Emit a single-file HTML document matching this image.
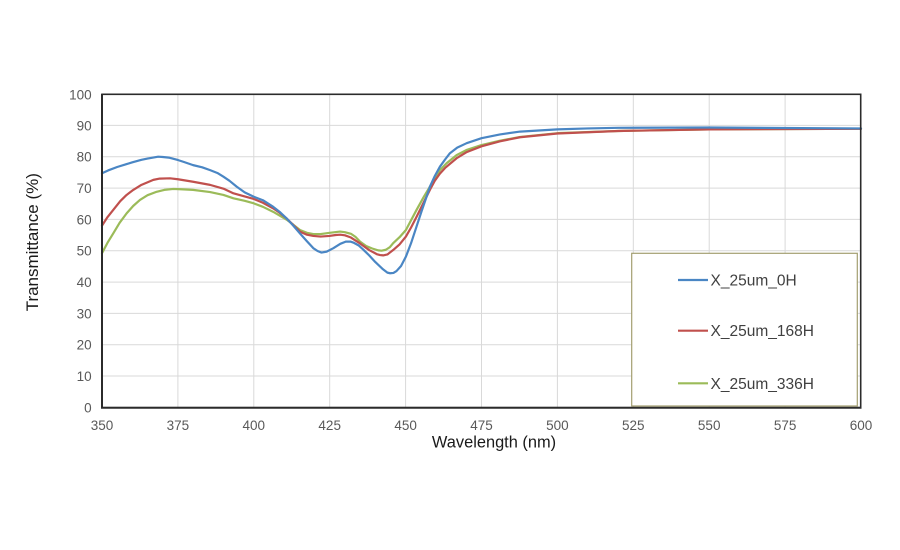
<!DOCTYPE html>
<html>
<head>
<meta charset="utf-8">
<style>
  html, body { margin: 0; padding: 0; background: #ffffff; }
  body { width: 900px; height: 550px; overflow: hidden; }
  svg { display: block; }
  text { font-family: "Liberation Sans", Arial, sans-serif; }
</style>
</head>
<body>
<svg width="900" height="550" viewBox="0 0 900 550" xmlns="http://www.w3.org/2000/svg">
  <rect x="0" y="0" width="900" height="550" fill="#ffffff"/>

  <!-- gridlines -->
  <g stroke="#d9d9d9" stroke-width="1" fill="none">
    <line x1="102" y1="125.4" x2="861" y2="125.4"/>
    <line x1="102" y1="156.7" x2="861" y2="156.7"/>
    <line x1="102" y1="188.1" x2="861" y2="188.1"/>
    <line x1="102" y1="219.4" x2="861" y2="219.4"/>
    <line x1="102" y1="250.7" x2="861" y2="250.7"/>
    <line x1="102" y1="282.1" x2="861" y2="282.1"/>
    <line x1="102" y1="313.4" x2="861" y2="313.4"/>
    <line x1="102" y1="344.7" x2="861" y2="344.7"/>
    <line x1="102" y1="376.0" x2="861" y2="376.0"/>

    <line x1="177.9" y1="94.3" x2="177.9" y2="407.7"/>
    <line x1="253.8" y1="94.3" x2="253.8" y2="407.7"/>
    <line x1="329.7" y1="94.3" x2="329.7" y2="407.7"/>
    <line x1="405.6" y1="94.3" x2="405.6" y2="407.7"/>
    <line x1="481.5" y1="94.3" x2="481.5" y2="407.7"/>
    <line x1="557.4" y1="94.3" x2="557.4" y2="407.7"/>
    <line x1="633.3" y1="94.3" x2="633.3" y2="407.7"/>
    <line x1="709.2" y1="94.3" x2="709.2" y2="407.7"/>
    <line x1="785.1" y1="94.3" x2="785.1" y2="407.7"/>
  </g>

  <!-- series -->
  <g transform="translate(102,407.7) scale(3.036,-3.134)" fill="none" stroke-linejoin="round" stroke-linecap="round">
    <polyline vector-effect="non-scaling-stroke" stroke="#9bbb59" stroke-width="2.2"
      points="0,49.3 1.8,52.6 3.7,55.6 5.8,59 8.1,62 10.3,64.4 12.5,66.3 15,67.8 18,68.9 20.5,69.5 23.5,69.8 26,69.7 30,69.5 35.6,68.8 40,67.9 43.3,66.8 47,66.0 50,65.2 53,64.1 56.4,62.5 58.5,61.3 60.8,60 63,58.4 65.2,56.7 67.5,55.8 69.6,55.4 72,55.4 75,55.8 78.4,56.2 80,56 82,55.5 83.5,54.5 85,53 87,51.6 89,50.8 91,50.2 92.1,50.1 93.5,50.4 94.8,51.2 95.9,52.5 98,54.4 100.1,56.7 101.8,59.8 103.6,63.1 106,67.3 108,70.5 109.6,73.3 111.3,75.8 113.5,78 116.8,80.6 120,82.2 125,83.8 131.1,85.2 137.7,86.4 150,87.6 170,88.3 200,88.8 250,89.0"/>
    <polyline vector-effect="non-scaling-stroke" stroke="#c0504d" stroke-width="2.2"
      points="0,58.1 1.8,60.8 3.7,63.1 6,65.9 8,67.8 10.3,69.5 13,71.1 16.9,72.7 19,73.1 22.4,73.2 25,72.9 30,72.1 35.6,71.1 40,69.9 43.3,68.4 47,67.4 50,66.6 53,65.4 56.4,63.6 58.5,62.2 60.8,60.4 63,58.3 65.2,56.2 67.5,55.2 69.6,54.8 72,54.6 74.9,54.8 77,55.1 78.5,55.2 80,55 82,54.3 85,52.4 88,50.3 90.5,49 91.6,48.7 92.6,48.6 94,48.9 95.9,50.3 98,52.1 100.1,54.6 101.8,57.5 103.6,60.9 106,65.6 108,69.5 109.6,72.4 111.3,74.7 113,76.5 116.8,79.6 120,81.5 125,83.4 131.1,85.0 137.7,86.3 150,87.5 170,88.3 200,88.8 250,89.0"/>
    <polyline vector-effect="non-scaling-stroke" stroke="#4a86c4" stroke-width="2.2"
      points="0,74.8 2,75.7 5,76.8 8,77.7 10,78.3 13,79.1 15,79.5 18.5,80.1 20,80.0 22,79.8 25.1,79 27,78.4 30,77.4 33,76.7 35.6,75.8 38,74.9 40,73.7 42,72.4 44.4,70.5 47,68.7 50,67.3 53,66.2 56.4,64.1 58.5,62.5 60.8,60.4 63,58.1 65.2,55.6 67.5,53.1 69.6,50.9 71,50.0 72.3,49.5 74,49.8 76.2,50.9 78.5,52.3 80.3,53 81.8,53 83,52.6 84.5,51.8 86,50.5 88,48.6 90,46.5 92.5,44.2 94,43.1 94.9,42.9 96,43.0 97,43.6 98.5,45.2 100.1,48.2 101.8,52.5 103.6,57.8 105.3,62.8 106.9,67.3 108,70.5 109.6,73.9 111.3,76.9 113,79.2 114.6,81.2 117,83.0 120.1,84.4 125,86 131.1,87.2 137.7,88.1 150,88.8 160,89.1 170,89.3 200,89.4 250,89.1"/>
  </g>

  <!-- plot border -->
  <rect x="102" y="94.3" width="758.7" height="313.4" fill="none" stroke="#2b2b2b" stroke-width="1.6"/>
  <line x1="102" y1="94" x2="102" y2="408.5" stroke="#2b2b2b" stroke-width="2"/>
  <line x1="101" y1="407.7" x2="861.5" y2="407.7" stroke="#2b2b2b" stroke-width="2"/>

  <!-- legend -->
  <rect x="631.7" y="253.3" width="225.6" height="152.7" fill="#ffffff" stroke="#a39e70" stroke-width="1.2"/>
  <line x1="678" y1="280" x2="708" y2="280" stroke="#4a86c4" stroke-width="2.2"/>
  <line x1="678" y1="330.7" x2="708" y2="330.7" stroke="#c0504d" stroke-width="2.2"/>
  <line x1="678" y1="383.3" x2="708" y2="383.3" stroke="#9bbb59" stroke-width="2.2"/>
  <g font-size="15.5" fill="#404040">
    <text x="710.5" y="285.5">X_25um_0H</text>
    <text x="710.5" y="336.2">X_25um_168H</text>
    <text x="710.5" y="388.8">X_25um_336H</text>
  </g>

  <!-- y tick labels -->
  <g font-size="13.5" fill="#595959" text-anchor="end">
    <text x="91.7" y="99.3">100</text>
    <text x="91.7" y="130.4">90</text>
    <text x="91.7" y="161.7">80</text>
    <text x="91.7" y="193.1">70</text>
    <text x="91.7" y="224.4">60</text>
    <text x="91.7" y="255.7">50</text>
    <text x="91.7" y="287.1">40</text>
    <text x="91.7" y="318.4">30</text>
    <text x="91.7" y="349.7">20</text>
    <text x="91.7" y="381.0">10</text>
    <text x="91.7" y="412.7">0</text>
  </g>

  <!-- x tick labels -->
  <g font-size="13.5" fill="#595959" text-anchor="middle">
    <text x="102" y="430">350</text>
    <text x="177.9" y="430">375</text>
    <text x="253.8" y="430">400</text>
    <text x="329.7" y="430">425</text>
    <text x="405.6" y="430">450</text>
    <text x="481.5" y="430">475</text>
    <text x="557.4" y="430">500</text>
    <text x="633.3" y="430">525</text>
    <text x="709.2" y="430">550</text>
    <text x="785.1" y="430">575</text>
    <text x="861" y="430">600</text>
  </g>

  <!-- axis titles -->
  <text x="494" y="447.5" font-size="16.4" fill="#1a1a1a" text-anchor="middle">Wavelength (nm)</text>
  <text transform="translate(38,242.2) rotate(-90)" font-size="17" fill="#1a1a1a" text-anchor="middle">Transmittance (%)</text>
</svg>
</body>
</html>
